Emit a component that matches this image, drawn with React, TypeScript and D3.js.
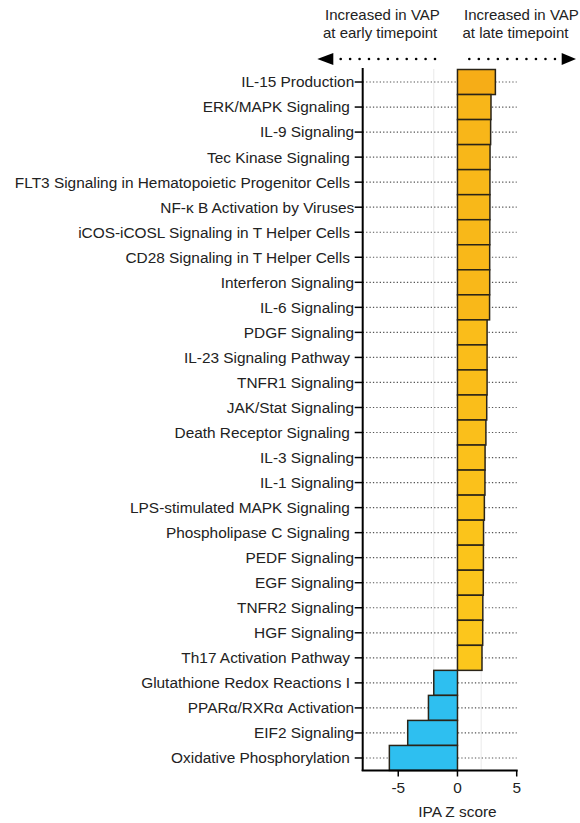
import * as d3 from "d3";

// pathway names (top to bottom) and IPA z scores
const pathways = [
  "IL-15 Production",
  "ERK/MAPK Signaling ",
  "IL-9 Signaling",
  "Tec Kinase Signaling ",
  "FLT3 Signaling in Hematopoietic Progenitor Cells ",
  "NF-κ B Activation by Viruses",
  "iCOS-iCOSL Signaling in T Helper Cells ",
  "CD28 Signaling in T Helper Cells ",
  "Interferon Signaling",
  "IL-6 Signaling",
  "PDGF Signaling",
  "IL-23 Signaling Pathway ",
  "TNFR1 Signaling",
  "JAK/Stat Signaling",
  "Death Receptor Signaling ",
  "IL-3 Signaling",
  "IL-1 Signaling",
  "LPS-stimulated MAPK Signaling ",
  "Phospholipase C Signaling ",
  "PEDF Signaling",
  "EGF Signaling",
  "TNFR2 Signaling",
  "HGF Signaling",
  "Th17 Activation Pathway ",
  "Glutathione Redox Reactions I ",
  "PPARα/RXRα Activation",
  "EIF2 Signaling",
  "Oxidative Phosphorylation ",
];

const zScores = [
  3.2, 2.83, 2.8, 2.75, 2.74, 2.74, 2.73, 2.72, 2.72, 2.71, 2.5, 2.5, 2.5,
  2.47, 2.4, 2.33, 2.32, 2.27, 2.2, 2.19, 2.18, 2.14, 2.13, 2.07, -2.0,
  -2.45, -4.2, -5.75,
];

const xTicks = [-5, 0, 5];
const thresholds = [-2, 2];

const FONT = "'Liberation Sans', Arial, Helvetica, sans-serif";
const FS = 15.4;

export default function App() {
  const width = 580;
  const height = 823;

  const x = d3.scaleLinear().domain([-8, 5]).range([362.7, 516.7]);
  const y = d3.scaleBand<string>().domain(pathways).range([69.5, 770.5]).padding(0);

  const posColor = d3
    .scaleLinear<string>()
    .domain([2.07, 3.2])
    .range(["#fcc71c", "#f6ad17"]);
  const negColor = "#2ebff0";

  const x0 = x(0);
  const top = y.range()[0];
  const bottom = y.range()[1];
  const axisLeft = x.range()[0];

  const leftDots = d3.range(11).map((i) => 340.7 + i * 9.43);
  const rightDots = d3.range(10).map((i) => 469.3 + i * 9.52);

  return (
    <svg
      width={width}
      height={height}
      style={{ position: "absolute", left: 0, top: 0, background: "#fff" }}
      fontFamily={FONT}
    >
      {/* header */}
      <g fontSize={15} fill="#222">
        <text x={325} y={19.5}>Increased in VAP</text>
        <text x={323} y={38}>at early timepoint</text>
        <text x={464} y={19.5}>Increased in VAP</text>
        <text x={462.5} y={38}>at late timepoint</text>
      </g>
      <g fill="#000">
        <path d="M317.3,59 L333.3,53 L333.3,65 Z" />
        <path d="M576,59 L561.7,53 L561.7,65 Z" />
        {leftDots.concat(rightDots).map((d, i) => (
          <circle key={i} cx={d} cy={59} r={1.3} />
        ))}
      </g>

      {/* threshold gridlines */}
      {thresholds.map((t) => (
        <line
          key={t}
          x1={x(t)}
          x2={x(t)}
          y1={top}
          y2={bottom}
          stroke="#d4d4d4"
          strokeWidth={1}
          strokeDasharray="1,1"
        />
      ))}

      {/* row gridlines */}
      {pathways.map((p) => {
        const cy = (y(p) ?? 0) + y.bandwidth() / 2;
        return (
          <line
            key={p}
            x1={axisLeft}
            x2={x(5)}
            y1={cy}
            y2={cy}
            stroke="#555"
            strokeWidth={1.2}
            strokeDasharray="1.3,2.1"
          />
        );
      })}

      {/* bars */}
      {pathways.map((p, i) => {
        const v = zScores[i];
        const bx = Math.min(x(v), x0);
        const bw = Math.abs(x(v) - x0);
        return (
          <rect
            key={p}
            x={bx}
            y={y(p)}
            width={bw}
            height={y.bandwidth()}
            fill={v > 0 ? posColor(v) : negColor}
            stroke="#2a2418"
            strokeWidth={1.5}
          />
        );
      })}

      {/* y axis */}
      <line x1={axisLeft} x2={axisLeft} y1={68} y2={bottom + 0.5} stroke="#000" strokeWidth={2} />
      {pathways.map((p) => {
        const cy = (y(p) ?? 0) + y.bandwidth() / 2;
        return (
          <g key={p}>
            <line x1={axisLeft - 8} x2={axisLeft} y1={cy} y2={cy} stroke="#000" strokeWidth={1.5} />
            <text
              x={axisLeft - 8.5}
              y={cy}
              dy="0.35em"
              textAnchor="end"
              fontSize={FS}
              fill="#222"
              style={{ whiteSpace: "pre" }}
            >
              {p}
            </text>
          </g>
        );
      })}

      {/* x axis */}
      <line x1={axisLeft - 1} x2={x(5) + 1} y1={bottom} y2={bottom} stroke="#000" strokeWidth={2} />
      {xTicks.map((t) => (
        <g key={t}>
          <line x1={x(t)} x2={x(t)} y1={bottom} y2={bottom + 6} stroke="#000" strokeWidth={1.5} />
          <text x={x(t)} y={bottom + 17} dy="0.35em" textAnchor="middle" fontSize={FS} fill="#222">
            {t < 0 ? `-${Math.abs(t)}` : t}
          </text>
        </g>
      ))}
      <text x={x0} y={812} dy="0.35em" textAnchor="middle" fontSize={FS} fill="#222">
        IPA Z score
      </text>
    </svg>
  );
}
